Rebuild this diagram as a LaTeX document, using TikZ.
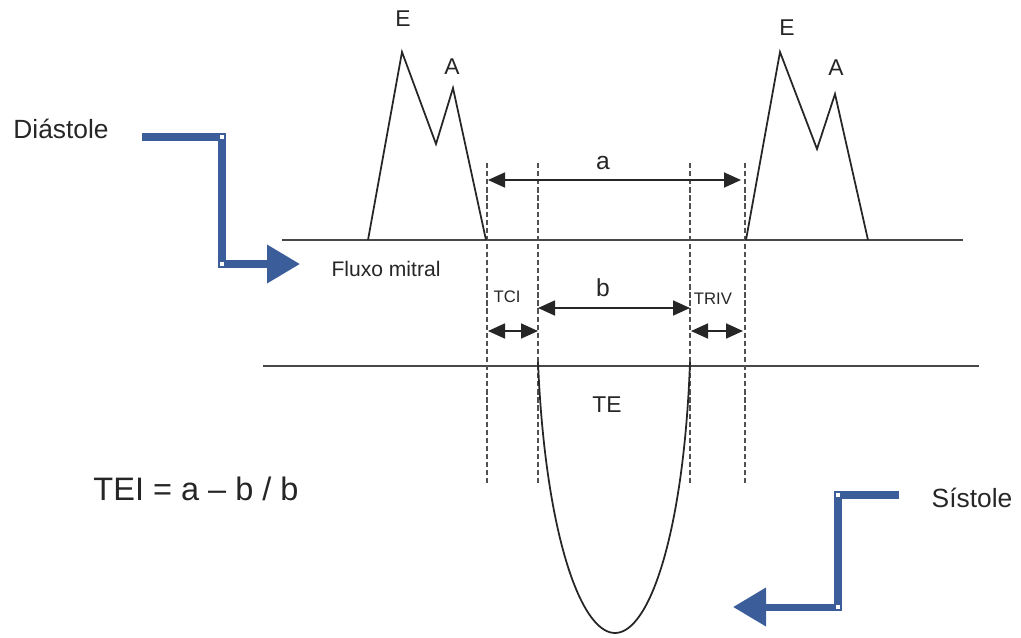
\documentclass[tikz,border=0pt]{standalone}
\usepackage{fontspec}
\setmainfont{Liberation Sans}
\usetikzlibrary{arrows.meta}
\definecolor{flowblue}{HTML}{3B5E9B}
\definecolor{ink}{HTML}{262626}
\tikzset{
  trace/.style={draw=ink, line width=1pt, line join=miter},
  axisline/.style={draw=ink!85, line width=1pt},
  guide/.style={draw=ink!80, line width=0.7pt, dash pattern=on 3pt off 1.6pt},
  dimarrow/.style={{Triangle[length=3.4mm,width=3mm]}-{Triangle[length=3.4mm,width=3mm]}, draw=ink, line width=1pt},
  flow/.style={-{Triangle[length=6.6mm,width=7.4mm]}, draw=flowblue, line width=4pt},
  handle/.style={fill=white, inner sep=0pt, minimum size=0.7mm},
  lbl/.style={text=ink, inner sep=0pt},
  biglbl/.style={lbl, font=\fontsize{15}{18}\selectfont},
  peaklbl/.style={lbl, font=\fontsize{13}{15}\selectfont},
  smalllbl/.style={lbl, font=\fontsize{9.5}{11}\selectfont}
}
\begin{document}
\begin{tikzpicture}[x=0.02cm, y=-0.02cm]
  \useasboundingbox (0,0) rectangle (1021,637);
  \coordinate (top-l) at (282,240);
  \coordinate (top-r) at (963,240);
  \coordinate (low-l) at (263,366);
  \coordinate (low-r) at (979,366);
  \draw[axisline] (top-l) -- (top-r);
  \draw[axisline] (low-l) -- (low-r);
  \foreach \x/\n in {487/g1, 538/g2, 690/g3, 745/g4} {
    \coordinate (\n-t) at (\x,163);
    \coordinate (\n-b) at (\x,483);
    \draw[guide] (\n-t) -- (\n-b);
  }
  \draw[trace] (368,240) -- (402,52) -- (436,144) -- (453,88) -- (486,240);
  \draw[trace] (746,240) -- (780,52) -- (817,149) -- (835,94) -- (868,240);
  \draw[trace] (538,362) .. controls (545,530) and (580,633) .. (615,633)
    .. controls (650,633) and (684,530) .. (690,362);
  \coordinate (a-l) at (488,180);
  \coordinate (a-r) at (741,180);
  \coordinate (b-l) at (538,308);
  \coordinate (b-r) at (690,308);
  \coordinate (tci-l) at (488,331);
  \coordinate (tci-r) at (538,331);
  \coordinate (triv-l) at (691,331);
  \coordinate (triv-r) at (743,331);
  \draw[dimarrow] (a-l) -- (a-r);
  \draw[dimarrow] (b-l) -- (b-r);
  \draw[dimarrow] (tci-l) -- (tci-r);
  \draw[dimarrow] (triv-l) -- (triv-r);
  \node[peaklbl] (e1) at (403,19) {E};
  \node[peaklbl] (a1) at (452,67) {A};
  \node[peaklbl] (e2) at (787,28) {E};
  \node[peaklbl] (a2) at (836,68) {A};
  \node[lbl, font=\fontsize{14}{16}\selectfont] (alab) at (603,163) {a};
  \node[lbl, font=\fontsize{14}{16}\selectfont] (blab) at (603,288) {b};
  \node[smalllbl] (tci) at (507,297) {TCI};
  \node[smalllbl] (triv) at (713,299) {TRIV};
  \node[peaklbl] (te) at (607,405) {TE};
  \node[lbl, font=\fontsize{12}{14}\selectfont] (fluxo) at (386,269) {Fluxo mitral};
  \node[biglbl] (dia) at (61,129) {Diástole};
  \node[biglbl] (sis) at (972,498) {Sístole};
  \node[lbl, font=\fontsize{18.5}{22}\selectfont] (tei) at (196,489) {TEI = a – b / b};
  \coordinate (dia-s) at (142,137);
  \coordinate (dia-1) at (222,137);
  \coordinate (dia-2) at (222,264);
  \coordinate (dia-t) at (300,264);
  \coordinate (sis-s) at (899,495);
  \coordinate (sis-1) at (838,495);
  \coordinate (sis-2) at (838,607);
  \coordinate (sis-t) at (733,607);
  \draw[flow] (dia-s) -- (dia-1) -- (dia-2) -- (dia-t);
  \draw[flow] (sis-s) -- (sis-1) -- (sis-2) -- (sis-t);
  \foreach \c in {dia-1, dia-2, sis-1, sis-2}
    \node[handle] (h-\c) at (\c) {};
\end{tikzpicture}
\end{document}
